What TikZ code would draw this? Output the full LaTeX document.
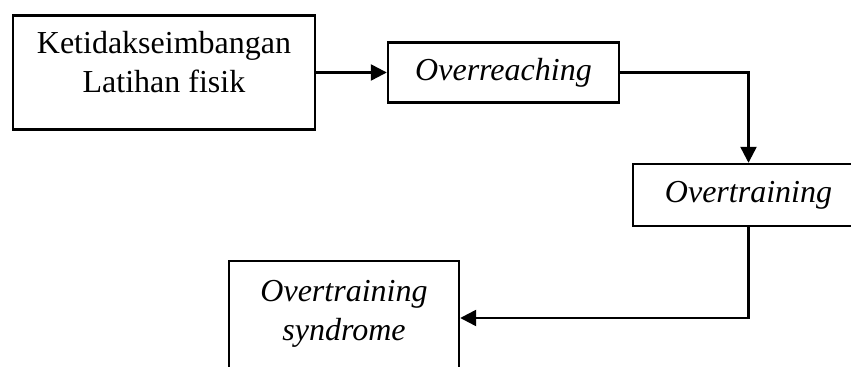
\documentclass[tikz,border=0pt]{standalone}
\usepackage{fontspec}
\setmainfont{Liberation Serif}
\usetikzlibrary{arrows.meta}
\begin{document}
\begin{tikzpicture}[x=0.5pt, y=-0.5pt,
  box/.style={draw, line width=1.2pt, align=center, inner sep=2pt, font=\fontsize{16}{19.5}\selectfont},
  flow/.style={line width=1.2pt, -{Triangle[length=8pt, width=8pt]}}]
\useasboundingbox (0,0) rectangle (851,367);
\clip (0,0) rectangle (851,367);
\node[box, minimum width=151pt, minimum height=57pt] (imbalance) at (164,72.5) {Ketidakseimbangan\\Latihan fisik\\[-9pt]\mbox{}};
\node[box, minimum width=115.5pt, minimum height=30pt] (overreach) at (503.5,72.5) {\textit{Overreaching}};
\node[box, minimum width=115.5pt, minimum height=31pt] (overtrain) at (748.5,195) {\textit{Overtraining}};
\node[box, minimum width=115pt, minimum height=57pt] (syndrome) at (344,318) {\textit{Overtraining}\\\textit{syndrome}\\[-12pt]\mbox{}};
\draw[flow] (imbalance) -- (overreach);
\draw[flow] (overreach.east) -| (overtrain.north);
\draw[flow] (overtrain.south) |- (syndrome.east);
\end{tikzpicture}
\end{document}
